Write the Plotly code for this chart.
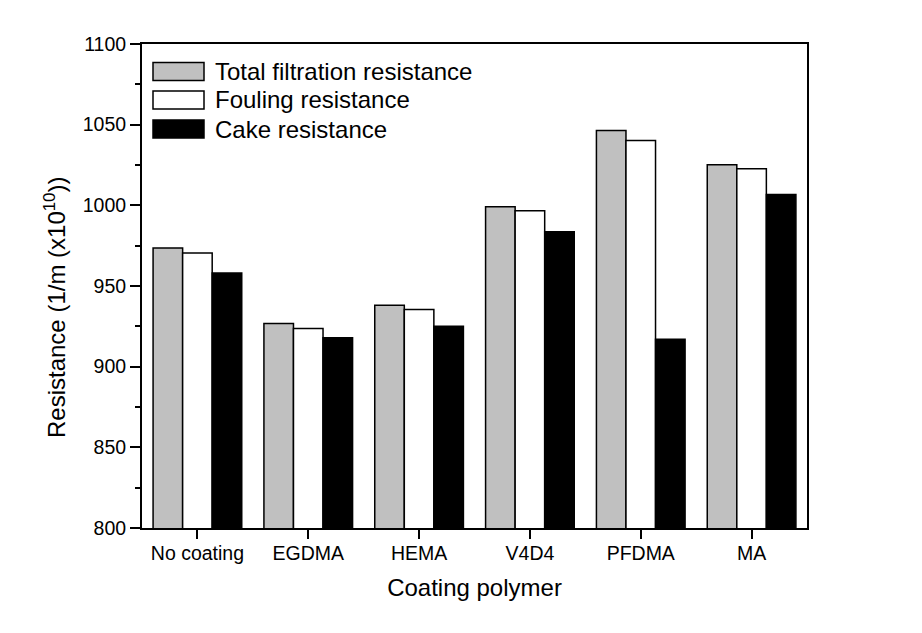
import plotly.graph_objects as go

# ---- data ----
categories = ["No coating", "EGDMA", "HEMA", "V4D4", "PFDMA", "MA"]
total_filtration = [973.5, 926.8, 938.0, 999.1, 1046.4, 1025.2]
fouling = [970.4, 923.7, 935.5, 996.6, 1040.2, 1022.7]
cake = [958.0, 918.0, 925.1, 983.7, 917.0, 1006.7]
series_names = ["Total filtration resistance", "Fouling resistance", "Cake resistance"]
series_colors = ["#C0C0C0", "#FFFFFF", "#000000"]
y_ticks = [800, 850, 900, 950, 1000, 1050, 1100]

FONT = "Liberation Sans, Arial, sans-serif"
W, H = 922, 633
OFF = 8  # page body margin compensation
PL, PR, PT, PB = 142, 807, 44, 528  # target plot-area pixel box
ML, MT = PL - OFF, PT - OFF
MR = W - ML - (PR - PL)
MB = H - MT - (PB - PT)

fig = go.Figure()
for name, vals, col in zip(series_names, [total_filtration, fouling, cake], series_colors):
    fig.add_trace(go.Bar(
        x=categories, y=vals, name=name,
        marker=dict(color=col, line=dict(color="black", width=1.5)),
        showlegend=False,
    ))

fig.update_layout(
    width=W, height=H,
    margin=dict(l=ML, r=MR, t=MT, b=MB),
    paper_bgcolor="white", plot_bgcolor="white",
    barmode="group", bargap=0.2, bargroupgap=0,
    font=dict(family=FONT, color="black", size=19.5),
)
fig.update_xaxes(
    range=[-0.5, 5.5],
    showline=True, linecolor="black", linewidth=2, mirror=True,
    ticks="outside", ticklen=9, tickwidth=1.5, tickcolor="black",
    tickfont=dict(size=19.5), ticklabelstandoff=-2,
    title=dict(text="Coating polymer", font=dict(size=24), standoff=16),
    showgrid=False, zeroline=False,
)
fig.update_yaxes(
    range=[800, 1100], tickvals=y_ticks,
    showline=True, linecolor="black", linewidth=2, mirror=True,
    ticks="outside", ticklen=10, tickwidth=1.5, tickcolor="black",
    minor=dict(dtick=25, ticks="outside", ticklen=5, tickwidth=1.5, tickcolor="black", showgrid=False),
    tickfont=dict(size=19.5),
    showgrid=False, zeroline=False,
)

# pixel (in the reference picture) -> paper coordinates
def px_x(x):
    return (x - PL) / (PR - PL)

def px_y(y):
    return (PB - y) / (PB - PT)

fig.add_annotation(
    text="Resistance (1/m (x10<sup>10</sup>))", textangle=-90,
    xref="paper", yref="paper", x=px_x(55), y=px_y(308),
    showarrow=False, font=dict(size=24), xanchor="center", yanchor="middle",
)

# custom legend (large swatches as in original)
row_centers = [71.5, 100.0, 129.0]
for name, col, yc in zip(series_names, series_colors, row_centers):
    fig.add_shape(
        type="rect", xref="paper", yref="paper",
        x0=px_x(153), x1=px_x(204), y0=px_y(yc - 9), y1=px_y(yc + 9),
        fillcolor=col, line=dict(color="black", width=1.5),
    )
    fig.add_annotation(
        text=name, xref="paper", yref="paper", x=px_x(213), y=px_y(yc),
        xanchor="left", yanchor="middle", showarrow=False, font=dict(size=24),
    )

fig.write_html("out.html")
